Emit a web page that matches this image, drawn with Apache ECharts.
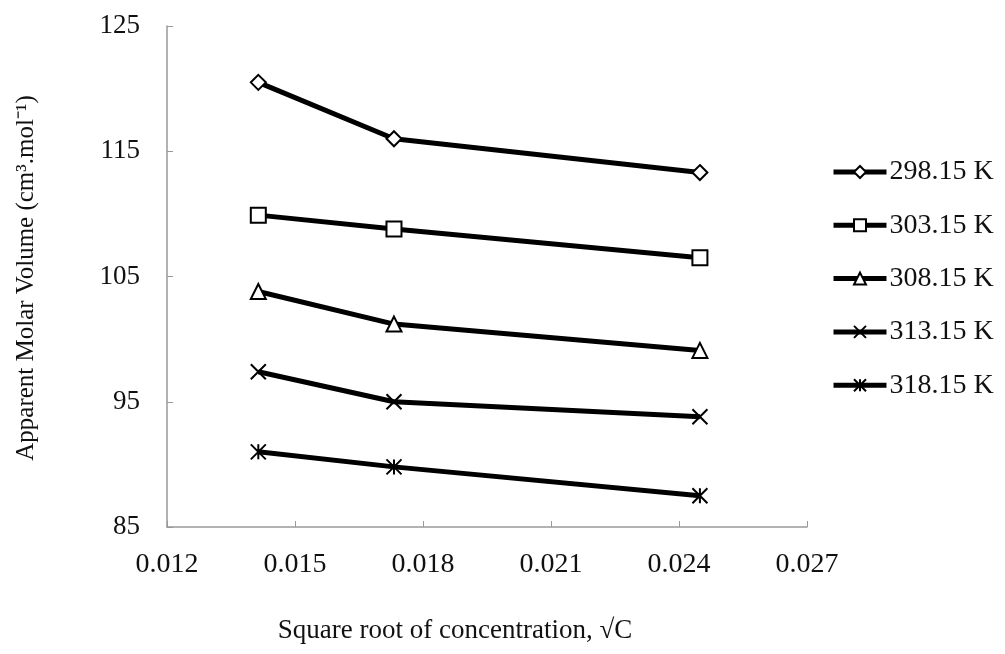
<!DOCTYPE html>
<html lang="en">
<head>
    <meta charset="UTF-8">
    <style>
    html, body { height: 100%; margin: 0; background: #fff; }
    </style>
</head>
<body>
<div id="chart" style="width:1005px;height:654px;"></div>
<script src="https://cdn.jsdelivr.net/npm/echarts@6/dist/echarts.min.js"></script>
<script>
    // square root of concentration
    var sqrtC = [0.01414, 0.01732, 0.02449];
    var temps = ['298.15 K', '303.15 K', '308.15 K', '313.15 K', '318.15 K'];
    var v298 = [120.5, 116.0, 113.3];
    var v303 = [109.9, 108.8, 106.5];
    var v308 = [103.8, 101.2, 99.1];
    var v313 = [97.4, 95.0, 93.8];
    var v318 = [91.0, 89.8, 87.5];
    var xTicks = [0.012, 0.015, 0.018, 0.021, 0.024, 0.027];
    var yTicks = [85, 95, 105, 115, 125];

    var values = [v298, v303, v308, v313, v318];
    var symbols = [
        'diamond',
        'rect',
        'triangle',
        'path://M0,0L10,10M10,0L0,10',
        'path://M0,0L10,10M10,0L0,10M5,0L5,10'
    ];
    var sizes = [15, 15, 15, 15, 15];

    var font = 'Liberation Serif';
    var myChart = echarts.init(document.getElementById('chart'));

    var series = [];
    for (var i = 0; i < temps.length; i++) {
        var pts = [];
        for (var j = 0; j < sqrtC.length; j++) {
            pts.push([sqrtC[j], values[i][j]]);
        }
        series.push({
            name: temps[i],
            type: 'line',
            data: pts,
            symbol: symbols[i],
            symbolSize: sizes[i],
            showAllSymbol: true,
            lineStyle: { color: '#000', width: 5 },
            itemStyle: { color: '#fff', borderColor: '#000', borderWidth: 2 },
            z: 2
        });
    }

    myChart.setOption({
        animation: false,
        backgroundColor: '#fff',
        grid: { left: 167, right: 198, top: 26, bottom: 127 },
        legend: {
            orient: 'vertical',
            left: 826,
            top: 153,
            itemWidth: 53,
            itemHeight: 15,
            itemGap: 25.3,
            data: temps,
            textStyle: { fontFamily: font, fontSize: 28, lineHeight: 28, color: '#111', padding: [0, 0, 0, -2] },
            lineStyle: { width: 5, color: '#000' }
        },
        xAxis: {
            type: 'value',
            min: xTicks[0],
            max: xTicks[xTicks.length - 1],
            interval: 0.003,
            axisLine: { lineStyle: { color: '#999', width: 1.5 } },
            axisTick: { inside: true, length: 6, lineStyle: { color: '#999' } },
            splitLine: { show: false },
            axisLabel: {
                margin: 24,
                fontFamily: font,
                fontSize: 28,
                color: '#111',
                formatter: function (v) { return v.toFixed(3); }
            }
        },
        yAxis: {
            type: 'value',
            min: yTicks[0],
            max: yTicks[yTicks.length - 1],
            interval: 10,
            axisLine: { show: true, lineStyle: { color: '#999', width: 1.5 } },
            axisTick: { show: true, inside: true, length: 6, lineStyle: { color: '#999' } },
            splitLine: { show: false },
            axisLabel: { margin: 27, fontFamily: font, fontSize: 27, color: '#111' }
        },
        graphic: [
            {
                type: 'text',
                x: 455,
                y: 631,
                style: {
                    text: 'Square root of concentration, \u221AC',
                    font: '27px "Liberation Serif"',
                    fill: '#111',
                    textAlign: 'center',
                    textVerticalAlign: 'middle'
                }
            },
            {
                type: 'text',
                x: 26,
                y: 278,
                rotation: Math.PI / 2,
                style: {
                    text: 'Apparent Molar Volume (cm\u00B3.mol\u207B\u00B9)',
                    font: '25px "Liberation Serif"',
                    fill: '#111',
                    textAlign: 'center',
                    textVerticalAlign: 'middle'
                }
            }
        ],
        series: series
    });
</script>
</body>
</html>
